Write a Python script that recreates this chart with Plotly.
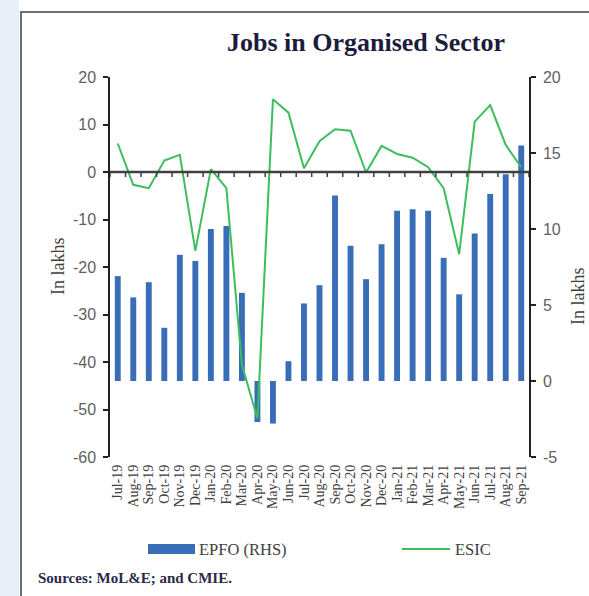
import plotly.graph_objects as go

# Monthly categories
months = ["Jul-19", "Aug-19", "Sep-19", "Oct-19", "Nov-19", "Dec-19",
          "Jan-20", "Feb-20", "Mar-20", "Apr-20", "May-20", "Jun-20",
          "Jul-20", "Aug-20", "Sep-20", "Oct-20", "Nov-20", "Dec-20",
          "Jan-21", "Feb-21", "Mar-21", "Apr-21", "May-21", "Jun-21",
          "Jul-21", "Aug-21", "Sep-21"]

# EPFO net payroll additions, in lakhs (right-hand scale)
epfo = [6.9, 5.5, 6.5, 3.5, 8.3, 7.9, 10.0, 10.2, 5.8, -2.7, -2.8, 1.3,
        5.1, 6.3, 12.2, 8.9, 6.7, 9.0, 11.2, 11.3, 11.2, 8.1, 5.7, 9.7,
        12.3, 13.6, 15.5]

# ESIC net payroll additions, in lakhs (left-hand scale)
esic = [6.0, -2.7, -3.4, 2.4, 3.6, -16.6, 0.6, -3.4, -40.6, -51.9, 15.3,
        12.5, 0.8, 6.5, 9.0, 8.7, -0.1, 5.5, 3.8, 3.0, 1.0, -3.4, -17.3,
        10.6, 14.1, 5.7, 1.0]

left_ticks = [-60, -50, -40, -30, -20, -10, 0, 10, 20]
right_ticks = [-5, 0, 5, 10, 15, 20]

W, H = 589, 596
ML, MR, MT, MB = 110, 60, 77, 139
PW, PH = W - ML - MR, H - MT - MB

BAR_BLUE = "#3a6db8"
LINE_GREEN = "#3dbd5c"
AXIS_DARK = "#404040"
SERIF = "Liberation Serif"
SANS = "Liberation Sans"


def px_x(px):
    return (px - ML) / PW


def px_y(py):
    return (H - MB - py) / PH


fig = go.Figure()

# bars on the right-hand scale (yaxis), line on the left-hand scale (yaxis2)
fig.add_trace(go.Bar(
    x=months, y=epfo, name="EPFO (RHS)", yaxis="y",
    marker=dict(color=BAR_BLUE, line=dict(width=0)), width=0.38,
    showlegend=False,
))

fig.add_trace(go.Scatter(
    x=months, y=esic, name="ESIC", yaxis="y2",
    mode="lines", line=dict(color=LINE_GREEN, width=2),
    showlegend=False,
))

cat_range = [-0.5, len(months) - 0.5]

tick_font = dict(family=SANS, size=16, color="#5f5f5f")

fig.update_layout(
    width=W, height=H,
    margin=dict(l=ML, r=MR, t=MT, b=MB),
    paper_bgcolor="white", plot_bgcolor="white",
    xaxis=dict(
        type="category", categoryorder="array", categoryarray=months,
        range=cat_range, showgrid=False, zeroline=False, showline=False,
        ticks="", tickangle=-90, tickmode="linear", tick0=0, dtick=1,
        tickfont=dict(family=SERIF, size=14, color="#404040"),
        ticklabelstandoff=4,
    ),
    yaxis=dict(
        range=[right_ticks[0], right_ticks[-1]], tickvals=right_ticks,
        ticktext=[str(v) for v in right_ticks],
        side="right", anchor="x",
        showgrid=False, zeroline=False,
        showline=True, linecolor="#222222", linewidth=1.5,
        ticks="outside", ticklen=5, tickwidth=1.5, tickcolor="#222222",
        tickfont=tick_font, ticklabelstandoff=4,
    ),
    yaxis2=dict(
        range=[left_ticks[0], left_ticks[-1]], tickvals=left_ticks,
        ticktext=[str(v) for v in left_ticks],
        overlaying="y", side="left", anchor="x",
        showgrid=False, zeroline=False,
        showline=True, linecolor="#222222", linewidth=1.5,
        ticks="outside", ticklen=5, tickwidth=1.5, tickcolor="#222222",
        tickfont=tick_font, ticklabelstandoff=4,
    ),
)

shapes = [
    # page strip on the left
    dict(type="rect", xref="paper", yref="paper", layer="below",
         x0=px_x(0), x1=px_x(19), y0=px_y(H + 5), y1=px_y(-5),
         fillcolor="#e9eff8", line=dict(width=0)),
    # panel frame
    dict(type="rect", xref="paper", yref="paper", layer="below",
         x0=px_x(21), x1=px_x(W + 10), y0=px_y(H + 10), y1=px_y(12),
         fillcolor="rgba(0,0,0,0)", line=dict(color="#6e6e6e", width=2)),
    # category axis crossing the left scale at zero
    dict(type="line", xref="paper", yref="y2", x0=0, x1=1, y0=0, y1=0,
         line=dict(color=AXIS_DARK, width=2.5)),
    # legend keys
    dict(type="rect", xref="paper", yref="paper",
         x0=px_x(148), x1=px_x(195), y0=px_y(554), y1=px_y(544),
         fillcolor=BAR_BLUE, line=dict(width=0)),
    dict(type="line", xref="paper", yref="paper",
         x0=px_x(402), x1=px_x(450), y0=px_y(549), y1=px_y(549),
         line=dict(color=LINE_GREEN, width=2)),
]

# tick marks between categories along the zero line
for i in range(len(months) + 1):
    shapes.append(dict(
        type="line", xref="x", yref="y2", ysizemode="pixel", yanchor=0,
        x0=i - 0.5, x1=i - 0.5, y0=0, y1=-5,
        line=dict(color=AXIS_DARK, width=1.5)))

annotations = [
    dict(text="<b>Jobs in Organised Sector</b>", xref="paper", yref="paper",
         x=px_x(366), y=px_y(42), showarrow=False,
         xanchor="center", yanchor="middle",
         font=dict(family=SERIF, size=26, color="#1c1c3c")),
    dict(text="In lakhs", xref="paper", yref="paper", textangle=-90,
         x=px_x(58), y=px_y(266), showarrow=False,
         xanchor="center", yanchor="middle",
         font=dict(family=SERIF, size=18, color="#404040")),
    dict(text="In lakhs", xref="paper", yref="paper", textangle=-90,
         x=px_x(578), y=px_y(296), showarrow=False,
         xanchor="center", yanchor="middle",
         font=dict(family=SERIF, size=18, color="#404040")),
    dict(text="EPFO (RHS)", xref="paper", yref="paper",
         x=px_x(197), y=px_y(549), showarrow=False,
         xanchor="left", yanchor="middle",
         font=dict(family=SERIF, size=16.5, color="#404040")),
    dict(text="ESIC", xref="paper", yref="paper",
         x=px_x(453), y=px_y(549), showarrow=False,
         xanchor="left", yanchor="middle",
         font=dict(family=SERIF, size=16.5, color="#404040")),
    dict(text="<b>Sources: MoL&amp;E; and CMIE.</b>", xref="paper", yref="paper",
         x=px_x(36), y=px_y(578), showarrow=False,
         xanchor="left", yanchor="middle",
         font=dict(family=SERIF, size=15, color="#2a2a48")),
]

fig.update_layout(shapes=shapes, annotations=annotations)

fig.write_html("out.html")
